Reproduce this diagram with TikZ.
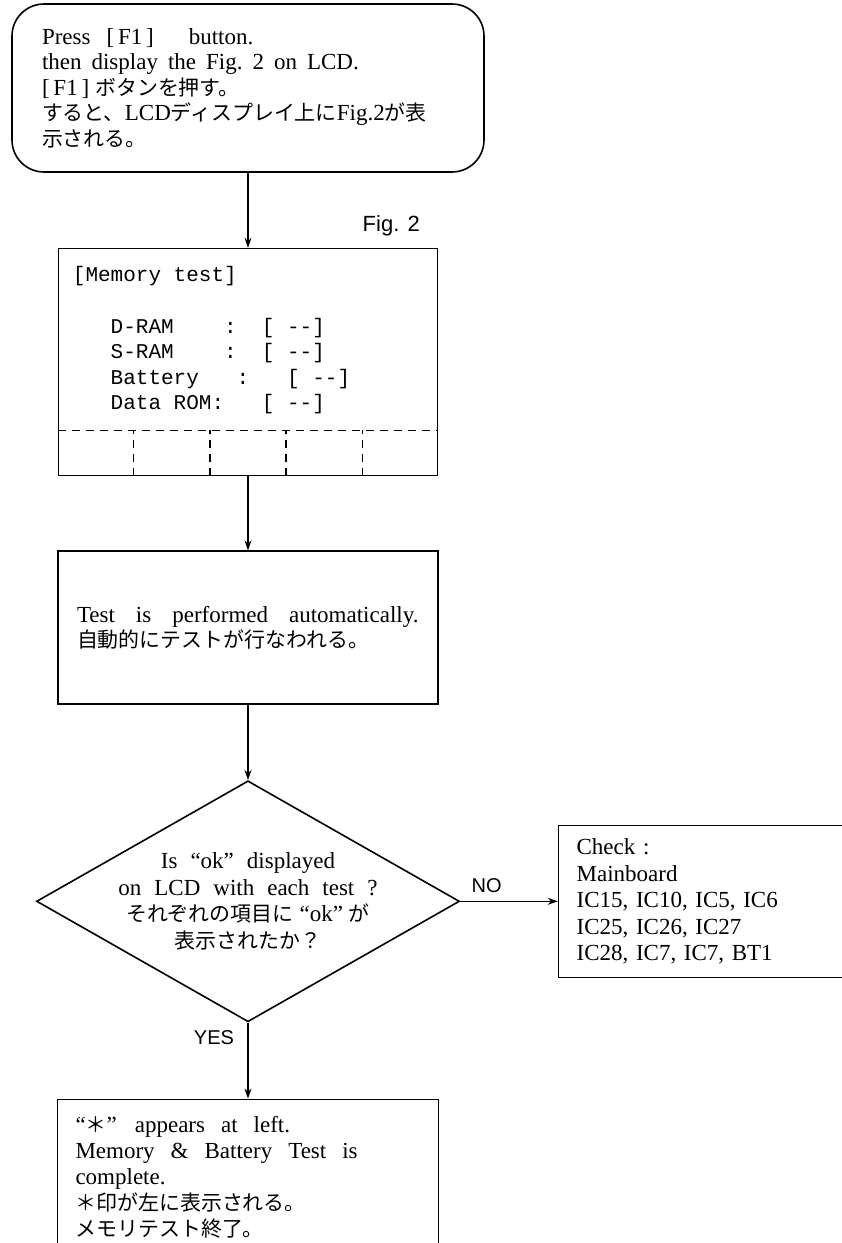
\documentclass[tikz,border=0pt]{standalone}
\usepackage{fontspec}
\setmainfont{Liberation Serif}
\setsansfont{Liberation Sans}
\setmonofont{Liberation Mono}
\newfontfamily\jpfont{Noto Sans CJK JP}[Scale=0.91]
\usetikzlibrary{shapes.geometric, arrows.meta, positioning, calc}

\newcommand{\bodyfont}{\fontsize{23}{25.5}\selectfont}
\newcommand{\stopfont}{\fontsize{23}{26}\selectfont}
\newcommand{\askfont}{\fontsize{23}{26.5}\selectfont\spaceskip=13pt\relax}
\newcommand{\listfont}{\fontsize{23}{26.5}\selectfont}
\newcommand{\gaps}[1]{\spaceskip=#1\relax}

\tikzstyle{startstop} = [rectangle, rounded corners = 32pt, minimum width = 472pt,
  minimum height = 168pt, text width = 412pt, inner xsep = 30pt, align = left,
  draw = black, line width = 1.6pt, font = \bodyfont]
\tikzstyle{screen} = [rectangle, minimum width = 379pt, minimum height = 227pt,
  draw = black, line width = 1.6pt]
\tikzstyle{process} = [rectangle, minimum width = 380pt, minimum height = 153pt,
  text width = 342pt, inner xsep = 19pt, align = left, draw = black,
  line width = 1.6pt, font = \bodyfont]
\tikzstyle{decision} = [diamond, minimum width = 423pt, minimum height = 241pt,
  inner sep = 0pt, draw = black, line width = 1.6pt]
\tikzstyle{softkey} = [line width = 1.3pt, dash pattern = on 8pt off 6pt]
\tikzstyle{flag} = [font = \sffamily\fontsize{20}{24}\selectfont]
\tikzstyle{arrow} = [line width = 1.4pt, -{Stealth[length = 10pt, width = 7pt]}]

\begin{document}
\begin{tikzpicture}[node distance = 75pt]
  \useasboundingbox (0,0) rectangle (842pt,-1243pt);

  \node (start) [startstop, execute at begin node = {\gaps{10pt}}] at (248pt,-88pt)
    {Press\hspace{16pt}[\,F1\,]\hspace{35pt}button.\\
    then display the Fig.\ 2 on LCD.\\
    {[}\,F1\,{]}\hspace{6pt}{\jpfont ボタンを押す。}\\
    {\jpfont すると、}LCD{\jpfont ディスプレイ上に}Fig.2{\jpfont が表}\\
    {\jpfont 示される。}};
  \node (lcd-1) [screen, below = 75pt of start] {};
  \node (lcd-text) [anchor = north west, inner sep = 0pt, align = left,
    font = \ttfamily\fontsize{21}{25.3}\selectfont]
    at ($(lcd-1.north west) + (15pt,-18pt)$) {[Memory test]\\[27pt]
    ~~~D-RAM~~~~:~~[~--]\\
    ~~~S-RAM~~~~:~~[~--]\\
    ~~~Battery~~~:~~~[~--]\\
    ~~~Data~ROM:~~~[~--]};
  \node (fig-2) [flag, font = \sffamily\fontsize{22}{24}\selectfont, anchor = base east]
    at ($(lcd-1.north east) + (-15pt,16pt)$) {Fig. 2};
  \node (process-1) [process, below = 74pt of lcd-1, execute at begin node = {\gaps{21pt}}]
    {Test is performed automatically.\\
    {\jpfont 自動的にテストが行なわれる。}};
  \node (decision-1) [decision, below = 75pt of process-1] {};
  \node (question-1) [align = center, font = \askfont] at (decision-1) {Is “ok” displayed\\
    on LCD with each test ?\\
    {\jpfont それぞれの項目に}\hspace{6pt}“ok”\hspace{6pt}{\jpfont が}\\
    {\jpfont 表示されたか？}};
  \node (check-1) [process, right = 97.5pt of decision-1, minimum width = 303pt,
    minimum height = 152pt, text width = 267pt, inner xsep = 18pt,
    font = \listfont] {Check :\\
    Mainboard\\
    IC15, IC10, IC5, IC6\\
    IC25, IC26, IC27\\
    IC28, IC7, IC7, BT1};
  \node (stop) [process, below = 76pt of decision-1, minimum width = 381pt,
    minimum height = 156pt, text width = 345pt, inner xsep = 18pt,
    font = \stopfont, execute at begin node = {\gaps{16pt}}]
    {“{\jpfont ＊}”\hspace{18pt}appears at left.\\
    Memory \& Battery Test is\\
    complete.\\
    {\jpfont ＊印が左に表示される。}\\
    {\jpfont メモリテスト終了。}};

  % soft key row of the LCD
  \draw [softkey] ($(lcd-1.south west) + (0,46pt)$) -- ($(lcd-1.south east) + (0,46pt)$);
  \foreach \k in {1,...,4}
    \draw [softkey] ($(lcd-1.south west)!{\k/5}!(lcd-1.south east)$) -- ++(0,46pt);

  \draw [arrow] (start) -- (lcd-1);
  \draw [arrow] (lcd-1) -- (process-1);
  \draw [arrow] (process-1) -- (decision-1);
  \draw [arrow] (decision-1) -- node (no-1) [flag, pos = 0.27, above = 5pt] {NO} (check-1);
  \draw [arrow] (decision-1) -- node (yes-1) [flag, pos = 0.2, left = 10pt] {YES} (stop);
\end{tikzpicture}
\end{document}
